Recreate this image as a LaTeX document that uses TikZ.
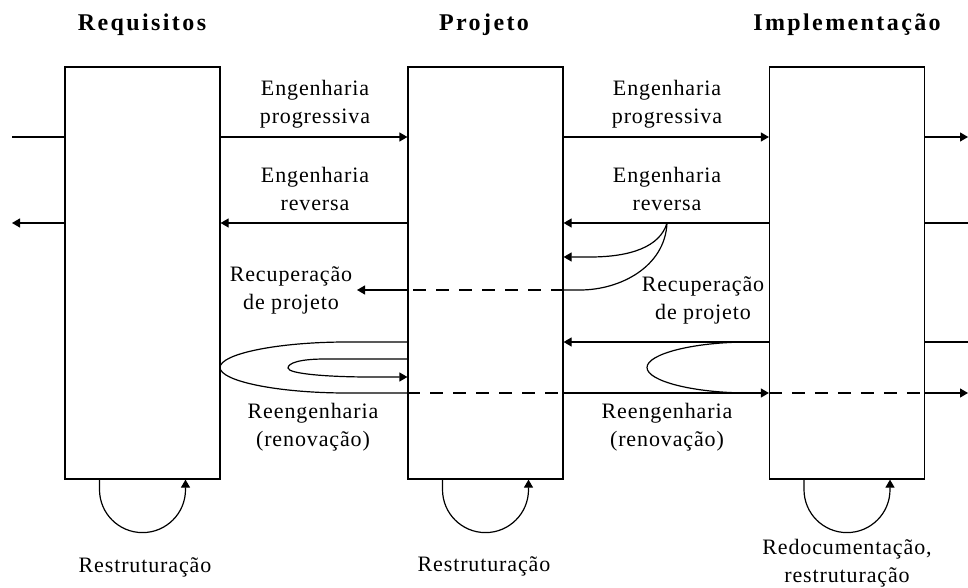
\documentclass[tikz,border=0pt]{standalone}
\usepackage{fontspec}
\setmainfont{Liberation Serif}[LetterSpace=4]
\newfontfamily\titulofont{Liberation Serif}[LetterSpace=10]
\usetikzlibrary{arrows.meta}
\tikzset{
  caixa/.style={draw, minimum width=155pt, minimum height=412pt, inner sep=0pt},
  titulo/.style={font=\titulofont\bfseries\fontsize{24}{28}\selectfont},
  rotulo/.style={align=center, inner sep=0pt, font=\fontsize{22}{28}\selectfont},
  seta/.style={-{Triangle[length=8pt,width=9pt]}},
  tracejado/.style={dash pattern=on 13pt off 10pt},
}
\begin{document}
\begin{tikzpicture}[x=1pt, y=1pt, line width=1.2pt]
\useasboundingbox (0,0) rectangle (968,587);
% caixas e titulos
\node[caixa] (req) at (142.5,314) {};
\node[caixa] (proj) at (485.5,314) {};
\node[caixa] (impl) at (847,314) {};
\node[titulo] (treq) at (142,562) {Requisitos};
\node[titulo] (tproj) at (484,562) {Projeto};
\node[titulo] (timpl) at (847,562) {Implementação};
% niveis
\coordinate (esq) at (12,0);
\coordinate (dir) at (968,0);
\coordinate (yprog) at (0,450);
\coordinate (yrev) at (0,364);
\coordinate (yrec1) at (0,330);
\coordinate (yrec) at (0,297);
\coordinate (yre1) at (0,245);
\coordinate (yre2) at (0,228);
\coordinate (yre3) at (0,210);
\coordinate (yre4) at (0,194);
\coordinate (rr) at (667,364);
\coordinate (pontarec) at (357,297);
% engenharia progressiva
\draw (esq |- yprog) -- (req.west |- yprog);
\draw[seta] (req.east |- yprog) -- (proj.west |- yprog);
\draw[seta] (proj.east |- yprog) -- (impl.west |- yprog);
\draw[seta] (impl.east |- yprog) -- (dir |- yprog);
% engenharia reversa
\draw[seta] (req.west |- yrev) -- (esq |- yrev);
\draw[seta] (proj.west |- yrev) -- (req.east |- yrev);
\draw[seta] (impl.west |- yrev) -- (proj.east |- yrev);
\draw (dir |- yrev) -- (impl.east |- yrev);
% recuperacao de projeto
\draw[seta] (rr) .. controls (660,340) and (630,330) .. (590,330) -- (proj.east |- yrec1);
\draw (rr) .. controls (665,320) and (620,297) .. (580,297) -- (proj.east |- yrec);
\draw[tracejado] (proj.east |- yrec) -- (proj.west |- yrec);
\draw[seta] (proj.west |- yrec) -- (pontarec);
% reengenharia
\draw (proj.west |- yre1) -- (347,245) .. controls (277,245) and (220,233) .. (220,219.5)
  .. controls (220,206) and (277,194) .. (347,194) -- (proj.west |- yre4);
\draw[seta] (proj.west |- yre2) -- (325,228) .. controls (300,228) and (288,224) .. (288,219)
  .. controls (288,213) and (330,210) .. (370,210) -- (proj.west |- yre3);
\draw[tracejado] (proj.west |- yre4) -- (proj.east |- yre4);
\draw[seta] (proj.east |- yre4) -- (impl.west |- yre4);
\draw[tracejado] (impl.west |- yre4) -- (impl.east |- yre4);
\draw[seta] (impl.east |- yre4) -- (dir |- yre4);
\draw[seta] (impl.west |- yre1) -- (proj.east |- yre1);
\draw (impl.east |- yre1) -- (dir |- yre1);
\draw (749,245) .. controls (693,245) and (647,233) .. (647,219.5)
  .. controls (647,206) and (693,194) .. (749,194);
% restruturacao
\foreach \c in {req,proj,impl}
  \draw[seta] ([xshift=-43pt]\c.south) -- ++(0,-10) arc[start angle=180, end angle=360, radius=43pt] -- ++(0,10);
% rotulos
\node[rotulo] (lprog1) at (315,483) {Engenharia\\progressiva};
\node[rotulo] (lprog2) at (667,483) {Engenharia\\progressiva};
\node[rotulo] (lrev1) at (315,398) {Engenharia\\reversa};
\node[rotulo] (lrev2) at (667,398) {Engenharia\\reversa};
\node[rotulo] (lrec1) at (291,297) {Recuperação\\de projeto};
\node[rotulo] (lrec2) at (703,287) {Recuperação\\de projeto};
\node[rotulo] (lree1) at (313,160) {Reengenharia\\(renovação)};
\node[rotulo] (lree2) at (667,160) {Reengenharia\\(renovação)};
\node[rotulo] (lrest1) at (145,20) {Restruturação};
\node[rotulo] (lrest2) at (484,21) {Restruturação};
\node[rotulo] (lrest3) at (847,24) {Redocumentação,\\restruturação};
\end{tikzpicture}
\end{document}
